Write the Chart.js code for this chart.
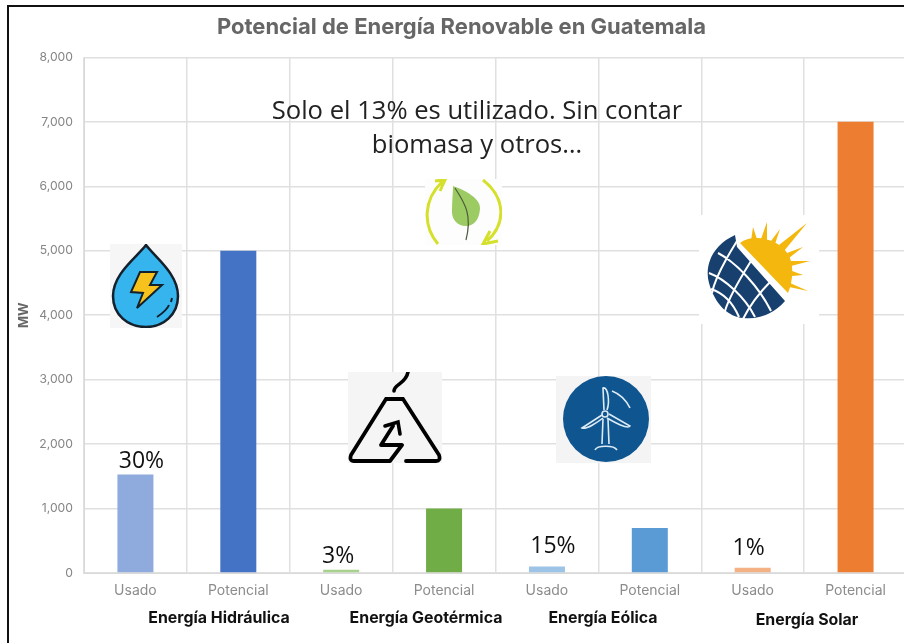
<!DOCTYPE html>
<html>
<head>
<meta charset="utf-8">
<script src="https://cdn.jsdelivr.net/npm/chart.js@4"></script>
<style>
  html, body { margin: 0; padding: 0; background: #fff; overflow: hidden; }
  #wrap { position: relative; width: 904px; height: 643px; overflow: hidden; }
  #frame { position: absolute; left: 7px; top: 5px; width: 930px; height: 660px; border: 2px solid #111; box-sizing: border-box; }
  #holder { position: absolute; left: 0; top: 0; width: 920px; height: 643px; }
  .icon { position: absolute; }
  .note { position: absolute; left: 257px; top: 93px; width: 440px; text-align: center; font: 25.6px/34px "Open Sans", sans-serif; color: #222; }
  .group { position: absolute; top: 608px; font: bold 15.9px "Inter", sans-serif; color: #111; white-space: nowrap; transform: translateX(-50%); }
</style>
</head>
<body>
<div id="wrap">
  <div id="holder"><canvas id="potencial" width="920" height="643"></canvas></div>
  <div id="frame"></div>

  <div class="note">Solo el 13% es utilizado. Sin contar<br>biomasa y otros…</div>
  <div class="group" style="left:219px">Energía Hidráulica</div>
  <div class="group" style="left:426px">Energía Geotérmica</div>
  <div class="group" style="left:603px">Energía Eólica</div>
  <div class="group" style="left:807px;top:610px">Energía Solar</div>

  <!-- agua -->
  <svg class="icon" style="left:110px;top:244px" width="72" height="84" viewBox="0 0 72 84">
    <rect width="72" height="84" fill="#f6f6f6"/>
    <path d="M36 1 C46 14 68 30 68 52 C68 71 53 83 36 83 C18 83 3 71 3 52 C3 30 26 14 36 1Z" fill="#35b4ee" stroke="#14202c" stroke-width="2.5"/>
    <path d="M30 28 L47 28 L40 41 L52 41 L27 64 L33 49 L21 48Z" fill="#f7c21c" stroke="#14202c" stroke-width="2"/>
    <path d="M47 73 C53 69 57 66 59 61 M61 58 L62 54" fill="none" stroke="#14202c" stroke-width="2"/>
  </svg>
  <!-- hoja -->
  <svg class="icon" style="left:425px;top:179px" width="77" height="66" viewBox="0 0 77 66">
    <rect width="77" height="66" fill="#fdfdfd"/>
    <path d="M13 65 C-3 46 -1 20 17 3 M10 2 L20 1 L15 12" fill="none" stroke="#d4e02a" stroke-width="3"/>
    <path d="M58 1 C80 18 82 44 62 62 M73 62 L58 65 L65 52" fill="none" stroke="#d4e02a" stroke-width="3"/>
    <path d="M28 7 C42 12 56 20 55 30 C54 42 48 47 41 47 C32 47 26 40 27 30 C27 22 28 14 28 7Z" fill="#9ccb63"/>
    <path d="M30 9 C38 22 48 34 41 61" fill="none" stroke="#4d5b3b" stroke-width="1.2"/>
  </svg>
  <!-- volcan -->
  <svg class="icon" style="left:348px;top:372px" width="94" height="91" viewBox="0 0 94 91">
    <rect width="94" height="91" fill="#f5f5f5"/>
    <path d="M46 19 C46 12 58 12 60 0" fill="none" stroke="#000" stroke-width="3.6" stroke-linecap="round"/>
    <path d="M38 27 L55 27 M38 27 L3 83 Q1 89 6 89 L42 89 L54 73 L33 73 L45 54 M55 27 L91 83 Q93 89 88 89 L58 89" fill="none" stroke="#000" stroke-width="3.8" stroke-linecap="round" stroke-linejoin="round"/>
    <path d="M37 54 L50 50 L52 62" fill="none" stroke="#000" stroke-width="3.6" stroke-linecap="round"/>
  </svg>
  <!-- eolica -->
  <svg class="icon" style="left:556px;top:376px" width="95" height="87" viewBox="0 0 95 87">
    <rect width="95" height="87" fill="#f4f4f4"/>
    <circle cx="50" cy="43" r="43" fill="#0f5690"/>
    <g fill="none" stroke="#dcebf5" stroke-width="1.6">
      <path d="M48 34 L47 12 C52 10 54 26 51 34"/>
      <path d="M46 39 L26 52 C30 54 42 46 47 42"/>
      <path d="M53 38 L74 50 C72 54 58 46 51 42"/>
      <circle cx="49" cy="38" r="3"/>
      <path d="M47 43 L46 68 M52 43 L53 68 M39 74 C41 69 58 69 61 74"/>
      <path d="M56 15 C64 18 70 24 74 32"/>
    </g>
  </svg>
  <!-- solar -->
  <svg class="icon" style="left:699px;top:215px" width="120" height="109" viewBox="0 0 120 109">
    <rect width="120" height="109" fill="#fff"/>
    <g fill="#f3b70e">
      <path d="M41 28 C46 24 52 23 58 23 C78 24 92 36 93 52 C94 62 92 70 89 78 Z"/>
      <path d="M52 26 L54 12 L58 24 Z M62 24 L68 7 L68 25 Z M72 26 L81 14 L76 29 Z M80 30 L108 8 L85 36 Z M88 38 L104 32 L90 43 Z M92 46 L111 46 L92 51 Z M93 56 L104 60 L93 61 Z M91 68 L109 76 L90 72 Z"/>
    </g>
    <path d="M36 20 C14 30 5 50 10 68 C16 90 30 102 44 103 C60 105 76 98 86 86 L38 32 Z" fill="#17406f"/>
    <g stroke="#fff" stroke-width="2" fill="none">
      <path d="M19 38 C38 48 60 72 72 96 M10 58 C26 64 46 82 56 102 M12 74 C24 78 34 88 40 102 M38 26 C28 42 16 62 13 78 M52 46 C42 62 30 82 26 96 M72 66 C60 78 50 92 44 104"/>
    </g>
  </svg>
</div>

<script>
const categories = ['Usado', 'Potencial', 'Usado', 'Potencial', 'Usado', 'Potencial', 'Usado', 'Potencial'];
const values = [1530, 5000, 50, 1000, 100, 700, 80, 7000];
const percentLabels = ['30%', '', '3%', '', '15%', '', '1%', ''];
const barColors = ['#8faadc', '#4472c4', '#a9d18e', '#70ad47', '#9dc3e6', '#5b9bd5', '#f4b183', '#ed7d31'];
const yTicks = [0, 1000, 2000, 3000, 4000, 5000, 6000, 7000, 8000];

// los porcentajes son cuadros de texto sueltos, cada uno con su desfase
const percentShift = [[6, -1], null, [-3, -2], null, [6, -9], null, [-4, -8], null];

const percentPlugin = {
  id: 'percentPlugin',
  afterDatasetsDraw(chart) {
    const { ctx, scales } = chart;
    ctx.save();
    ctx.font = '23px "Open Sans", sans-serif';
    ctx.fillStyle = '#111';
    ctx.textAlign = 'center';
    ctx.textBaseline = 'bottom';
    percentLabels.forEach((text, i) => {
      if (!text) return;
      const x = scales.x.getPixelForValue(i);
      const y = scales.y.getPixelForValue(values[i]);
      ctx.fillText(text, x + percentShift[i][0], y + percentShift[i][1]);
    });
    ctx.restore();
  }
};

const ctx = document.getElementById('potencial').getContext('2d');

new Chart(ctx, {
  type: 'bar',
  data: {
    labels: categories,
    datasets: [{
      data: values,
      backgroundColor: barColors,
      barPercentage: 0.35,
      categoryPercentage: 1
    }]
  },
  options: {
    responsive: false,
    animation: false,
    layout: { padding: { left: 16, right: 13, top: 0, bottom: 0 } },
    plugins: {
      legend: { display: false },
      tooltip: { enabled: false },
      title: {
        display: true,
        text: 'Potencial de Energía Renovable en Guatemala',
        color: '#666666',
        font: { family: 'Inter', size: 22, weight: 'bold' },
        padding: { top: 14, bottom: 17 }
      }
    },
    scales: {
      x: {
        grid: { color: '#e0e0e0', lineWidth: 1.5, offset: true, tickLength: 0 },
        border: { color: '#d9d9d9' },
        ticks: { color: '#8c8c8c', font: { family: 'Inter', size: 14 }, padding: 9, autoSkip: false, maxRotation: 0 },
        afterFit(scale) { scale.height = 70; }
      },
      y: {
        min: 0,
        max: 8000,
        grid: { color: '#e0e0e0', lineWidth: 1.5, tickLength: 0 },
        border: { color: '#d9d9d9' },
        afterBuildTicks(scale) { scale.ticks = yTicks.map(v => ({ value: v })); },
        ticks: { color: '#858585', font: { family: 'Inter', size: 12.2 }, padding: 11, callback: v => v.toLocaleString('en-US') },
        title: { display: true, text: 'MW', color: '#666666', font: { family: 'Inter', size: 13, weight: 'bold' }, padding: 0 },
        afterFit(scale) { scale.width = 68; }
      }
    }
  },
  plugins: [percentPlugin]
});
</script>
</body>
</html>
